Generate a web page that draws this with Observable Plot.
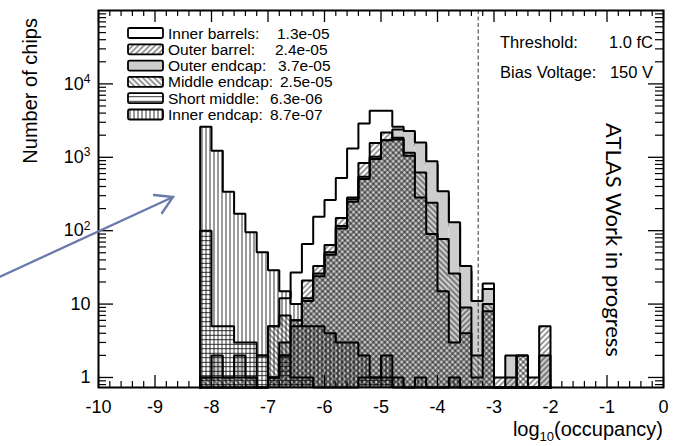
<!DOCTYPE html>
<html><head><meta charset="utf-8">
<script src="https://cdn.jsdelivr.net/npm/d3@7"></script>
<script src="https://cdn.jsdelivr.net/npm/@observablehq/plot@0.6"></script>
<style>
body{margin:0;background:#fff;}
#chart{width:675px;height:446px;}
svg{display:block;}
</style></head><body><div id="chart"></div>
<script>
// ---- data (log10 occupancy bins of width 0.2, left edges) ----
const binLeft = [-8.2,-8.0,-7.8,-7.6,-7.4,-7.2,-7.0,-6.8,-6.6,-6.4,-6.2,-6.0,-5.8,-5.6,-5.4,-5.2,-5.0,-4.8,-4.6,-4.4,-4.2,-4.0,-3.8,-3.6,-3.4,-3.2,-3.0,-2.8,-2.6,-2.4,-2.2];
const binWidth = 0.2;
const innerBarrels = [0,0,0,0,0, 2,5,12,27,66, 155,262,521,1318,2890, 4300,4300,2600,2100,1450, 800,300,115,28,8, 19,0,0,0,0, 0];
const outerEndcap  = [1,2,1,2,1, 0,1,3,5,12, 26,51,116,268,545, 1020,1700,2400,2290,1590, 880,345,130,33,11, 16,0,2,0,0, 2];
const outerBarrel  = [0,0,0,0,0, 0,1,2,6,21, 33,64,149,284,835, 1560,2175,1850,1050,284, 90,15,3,9,1, 8,1,1,2,1, 5];
const middleEndcap = [1,1,1,1,1, 0,5,7,6,11, 24,47,107,248,505, 945,1700,1750,1150,620, 240,77,26,4,2, 10,0,0,2,0, 0];
const shortMiddle  = [100,5,5,3,3, 2,1,2,1,1, 0,0,0,0,1, 1,1,0,0,0, 0,0,0,0,0, 0,0,0,0,0, 0];
const innerEndcap  = [2600,1230,340,170,95, 51,29,15,10,5, 5,4,3,3,2, 1,2,1,0,1, 0,0,1,0,0, 0,0,0,0,0, 0];

const seriesNames = ["Inner barrels:", "Outer barrel:", "Outer endcap:", "Middle endcap:", "Short middle:", "Inner endcap:"];
const seriesMeans = ["1.3e-05", "2.4e-05", "3.7e-05", "2.5e-05", "6.3e-06", "8.7e-07"];

const xTicks = [-10,-9,-8,-7,-6,-5,-4,-3,-2,-1,0];
const xTickLabels = ["-10","-9","-8","-7","-6","-5","-4","-3","-2","-1","0"];
const yTicks = [1,10,100,1000,10000];
const yTickLabels = ["1","10","10^2","10^3","10^4"];
const thresholdX = -3.28;
const noteLabels = ["Threshold:", "Bias Voltage:"];
const noteValues = ["1.0 fC", "150 V"];
const stampText = "ATLAS Work in progress";
const xTitle = ["log", "10", "(occupancy)"];
const yTitle = "Number of chips";

// ---- layout ----
const W = 675, H = 446;
const mL = 98, mR = 12, mT = 10, mB = 59;
const frameW = W - mL - mR, frameH = H - mT - mB;
const yMin = 0.73, yMax = 1e5;

// minor ticks
const xMinor = d3.range(-100, 1, 2).map(v => v / 10).filter(v => !xTicks.includes(v));
const yMinor = [];
for (let e = -1; e <= 4; e++) for (let k = 2; k <= 9; k++) { const v = k * Math.pow(10, e); if (v >= yMin && v <= yMax) yMinor.push(v); }

const styles = [
  {counts: innerBarrels, fill: "white"},
  {counts: outerEndcap, fill: "#cdcdcd"},
  {counts: outerBarrel, fill: "url(#hFwd)"},
  {counts: middleEndcap, fill: "url(#hBack)"},
  {counts: shortMiddle, fill: "url(#hHor)"},
  {counts: innerEndcap, fill: "url(#hVer)"}
];

function bars(counts) {
  return binLeft.map((x, i) => ({x1: x, x2: x + binWidth, y1: yMin, y2: counts[i]})).filter(d => d.y2 > 0);
}
function outline(counts) {
  const pts = [{x: binLeft[0], y: yMin}];
  counts.forEach((c, i) => {
    const v = c > 0 ? c : yMin;
    pts.push({x: binLeft[i], y: v}, {x: binLeft[i] + binWidth, y: v});
  });
  pts.push({x: binLeft[binLeft.length - 1] + binWidth, y: yMin});
  return pts;
}

const histMarks = [];
for (const s of styles) {
  histMarks.push(Plot.rect(bars(s.counts), {x1: "x1", x2: "x2", y1: "y1", y2: "y2", fill: s.fill, stroke: "none"}));
  histMarks.push(Plot.line(outline(s.counts), {x: "x", y: "y", stroke: "black", strokeWidth: 2, strokeLinejoin: "miter", strokeLinecap: "square"}));
}

const xLabMap = new Map(xTicks.map((t, i) => [t, xTickLabels[i]]));
const yLabMap = new Map(yTicks.map((t, i) => [t, yTickLabels[i]]));

const svgEl = Plot.plot({
  width: W, height: H,
  marginLeft: mL, marginRight: mR, marginTop: mT, marginBottom: mB,
  x: {domain: [-10, 0], label: null},
  y: {type: "log", domain: [yMin, yMax], label: null},
  style: {fontFamily: "'Liberation Sans', Arial, sans-serif", background: "white", color: "black"},
  marks: [
    ...histMarks,
    Plot.ruleX([thresholdX], {stroke: "#333", strokeWidth: 1, strokeDasharray: "4,2.5"}),
    // inward ticks, mirrored on all sides
    Plot.tickX(xTicks, {x: d => d, insetTop: frameH - 12, stroke: "black", strokeWidth: 1.3}),
    Plot.tickX(xTicks, {x: d => d, insetBottom: frameH - 12, stroke: "black", strokeWidth: 1.3}),
    Plot.tickX(xMinor, {x: d => d, insetTop: frameH - 6, stroke: "black", strokeWidth: 1.2}),
    Plot.tickX(xMinor, {x: d => d, insetBottom: frameH - 6, stroke: "black", strokeWidth: 1.2}),
    Plot.tickY(yTicks, {y: d => d, insetRight: frameW - 15, stroke: "black", strokeWidth: 1.3}),
    Plot.tickY(yTicks, {y: d => d, insetLeft: frameW - 15, stroke: "black", strokeWidth: 1.3}),
    Plot.tickY(yMinor, {y: d => d, insetRight: frameW - 8, stroke: "black", strokeWidth: 1.2}),
    Plot.tickY(yMinor, {y: d => d, insetLeft: frameW - 8, stroke: "black", strokeWidth: 1.2}),
    Plot.frame({stroke: "black", strokeWidth: 2}),
    Plot.axisX(xTicks, {tickSize: 0, tickPadding: 13, fontSize: 18, tickFormat: d => xLabMap.get(d), label: null}),
    Plot.axisY(yTicks, {tickSize: 0, tickPadding: 8, fontSize: 18, tickFormat: d => yLabMap.get(d), label: null})
  ]
});
document.getElementById("chart").appendChild(svgEl);

const svg = d3.select(svgEl);
// patterns
const defs = svg.insert("defs", ":first-child");
function linePattern(id, angle, spacing) {
  const p = defs.append("pattern").attr("id", id).attr("patternUnits", "userSpaceOnUse")
    .attr("width", spacing).attr("height", spacing).attr("patternTransform", `rotate(${angle})`);
  p.append("line").attr("x1", spacing / 2).attr("x2", spacing / 2).attr("y1", -1).attr("y2", spacing + 1)
    .attr("stroke", "black").attr("stroke-width", 0.8);
}
linePattern("hFwd", 45, 4);
linePattern("hBack", -45, 4);
linePattern("hHor", 90, 4.5);
linePattern("hVer", 0, 4);

// superscript tick labels
svg.selectAll("text").each(function() {
  const t = this.textContent;
  const m = /^10\^(\d)$/.exec(t);
  if (m) {
    const sel = d3.select(this);
    sel.text("10");
    sel.append("tspan").attr("dy", "-0.55em").attr("font-size", "12px").text(m[1]);
  }
});

const font = "'Liberation Sans', Arial, sans-serif";
// legend
const legendFills = ["white", "url(#hFwd)", "#cdcdcd", "url(#hBack)", "url(#hHor)", "url(#hVer)"];
const valueX = [277, 275, 278, 280, 270, 270];
const lg = svg.append("g").attr("font-family", font).attr("font-size", "15.5px").attr("text-anchor", "start");
seriesNames.forEach((n, i) => {
  const cy = 33 + i * 16.3;
  lg.append("rect").attr("x", 128).attr("y", cy - 5).attr("width", 35).attr("height", 10).attr("fill", "white");
  lg.append("rect").attr("x", 128).attr("y", cy - 5).attr("width", 35).attr("height", 10).attr("rx", 1.5)
    .attr("fill", legendFills[i]).attr("stroke", "black").attr("stroke-width", 1.8);
  lg.append("text").attr("x", 168).attr("y", cy).attr("dy", "0.36em").attr("text-anchor", "start").text(n);
  lg.append("text").attr("x", valueX[i]).attr("y", cy).attr("dy", "0.36em").attr("text-anchor", "start").text(seriesMeans[i]);
});
// notes
const ng = svg.append("g").attr("font-family", font).attr("font-size", "16.5px");
[42, 72].forEach((cy, i) => {
  ng.append("text").attr("x", 500).attr("y", cy).attr("dy", "0.36em").attr("text-anchor", "start").text(noteLabels[i]);
  ng.append("text").attr("x", 653).attr("y", cy).attr("dy", "0.36em").attr("text-anchor", "end").text(noteValues[i]);
});
// ATLAS stamp
svg.append("text").attr("transform", "translate(606,240) rotate(90)").attr("text-anchor", "middle")
  .attr("font-family", "Lato, 'Open Sans', sans-serif").attr("font-size", "22px").text(stampText);
// axis titles
const xt = svg.append("text").attr("x", 663).attr("y", 436).attr("text-anchor", "end")
  .attr("font-family", font).attr("font-size", "20px");
xt.append("tspan").text(xTitle[0]);
xt.append("tspan").attr("dy", "5").attr("font-size", "13px").text(xTitle[1]);
xt.append("tspan").attr("dy", "-5").text(xTitle[2]);
svg.append("text").attr("transform", "translate(37,18) rotate(-90)").attr("text-anchor", "end")
  .attr("font-family", font).attr("font-size", "20px").text(yTitle);
// annotation arrow
const ac = "#6a79aa";
const ag = svg.append("g").attr("stroke", ac).attr("stroke-width", 2.3).attr("fill", "none").attr("stroke-linecap", "round");
ag.append("line").attr("x1", 0).attr("y1", 276.7).attr("x2", 173).attr("y2", 197);
ag.append("polyline").attr("points", "154,195 173,197 162,213");
</script></body></html>
